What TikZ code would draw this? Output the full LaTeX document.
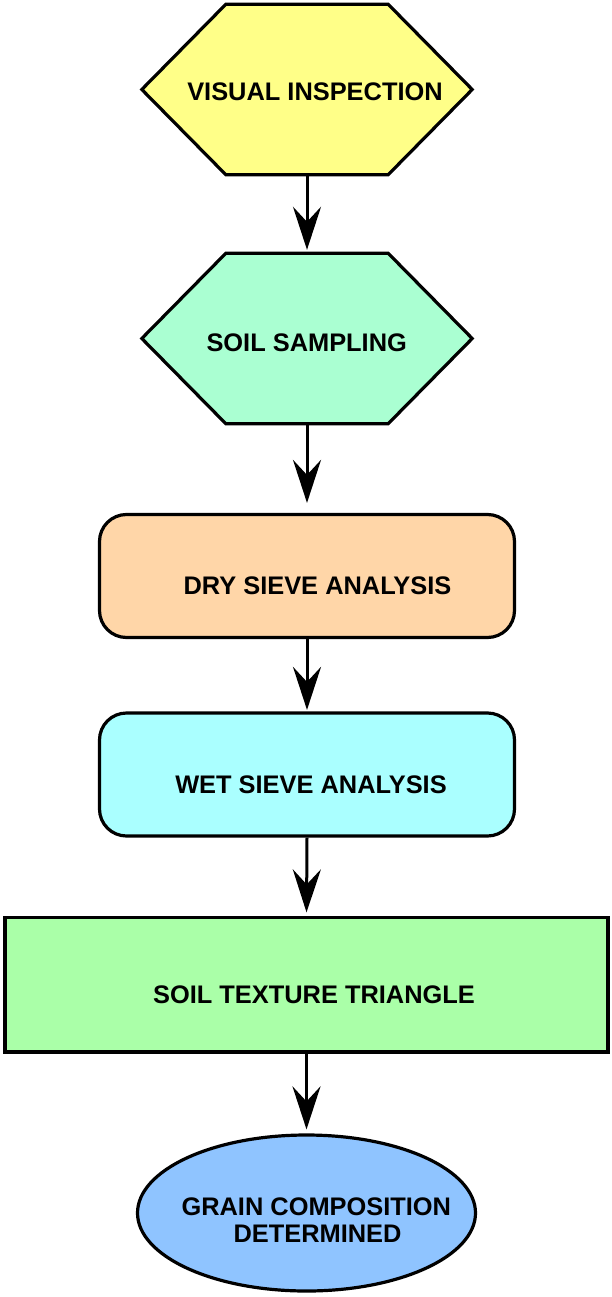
\documentclass[tikz,border=0pt]{standalone}
\usepackage{fontspec}
\setmainfont{Liberation Sans}
\usetikzlibrary{arrows.meta,shapes.geometric}
\definecolor{cyel}{RGB}{255,255,136}
\definecolor{cmint}{RGB}{170,255,210}
\definecolor{cpeach}{RGB}{255,214,168}
\definecolor{ccyan}{RGB}{170,255,255}
\definecolor{cgreen}{RGB}{170,255,168}
\definecolor{cblue}{RGB}{143,196,255}
\begin{document}
\begin{tikzpicture}[x=1pt,y=-1pt,
  border/.style={draw=black, line width=3.2pt, line join=miter},
  anch/.style={rectangle, inner sep=0pt, minimum width=330pt, minimum height=170pt},
  rbox/.style={border, rectangle, rounded corners=27pt, minimum width=415pt, minimum height=123pt, inner sep=0pt},
  lbl/.style={font=\fontsize{25.4}{27.3}\selectfont\bfseries, inner sep=0pt, anchor=base},
  arr/.style={draw=black, line width=3pt, -{Stealth[length=43pt, width=28pt, inset=15pt]}}]
\fill[white] (0,0) rectangle (611,1297);
\useasboundingbox (0,0) rectangle (611,1297);
% shapes
\node[anch] (h1) at (307,89.5) {};
\draw[border, fill=cyel] (h1.west) -- ([xshift=84pt]h1.north west) -- ([xshift=-84pt]h1.north east) -- (h1.east) -- ([xshift=-84pt]h1.south east) -- ([xshift=84pt]h1.south west) -- cycle;
\node[anch] (h2) at (307,338.5) {};
\draw[border, fill=cmint] (h2.west) -- ([xshift=84pt]h2.north west) -- ([xshift=-84pt]h2.north east) -- (h2.east) -- ([xshift=-84pt]h2.south east) -- ([xshift=84pt]h2.south west) -- cycle;
\node[rbox, fill=cpeach] (dry) at (307,576) {};
\node[rbox, fill=ccyan] (wet) at (307,774.5) {};
\node[border, fill=cgreen, rectangle, inner sep=0pt, minimum width=603pt, minimum height=134.5pt] (tri) at (306.5,984.75) {};
\node[border, fill=cblue, ellipse, inner sep=0pt, minimum width=338pt, minimum height=156pt] (gr) at (306.5,1213) {};
% texts
\node[lbl] (t1) at (315,101) {VISUAL INSPECTION};
\node[lbl] (t2) at (306.7,351.7) {SOIL SAMPLING};
\node[lbl] (t3) at (317.5,594) {DRY SIEVE ANALYSIS};
\node[lbl] (t4) at (311,793.3) {WET SIEVE ANALYSIS};
\node[lbl] (t5) at (314,1003.3) {SOIL TEXTURE TRIANGLE};
\node[lbl] (t6a) at (316.3,1215) {GRAIN COMPOSITION};
\node[lbl] (t6b) at (317.5,1242.3) {DETERMINED};
% connectors
\draw[arr, shorten >=3.5pt] (h1.south) -- (h2.north);
\draw[arr, shorten >=10pt] (h2.south) -- (dry.north);
\draw[arr, shorten >=1.5pt] (dry.south) -- (wet.north);
\draw[arr, shorten >=3.5pt] (wet.south) -- (tri.north);
\draw[arr, shorten >=4pt] (tri.south) -- (gr.north);
\end{tikzpicture}
\end{document}
